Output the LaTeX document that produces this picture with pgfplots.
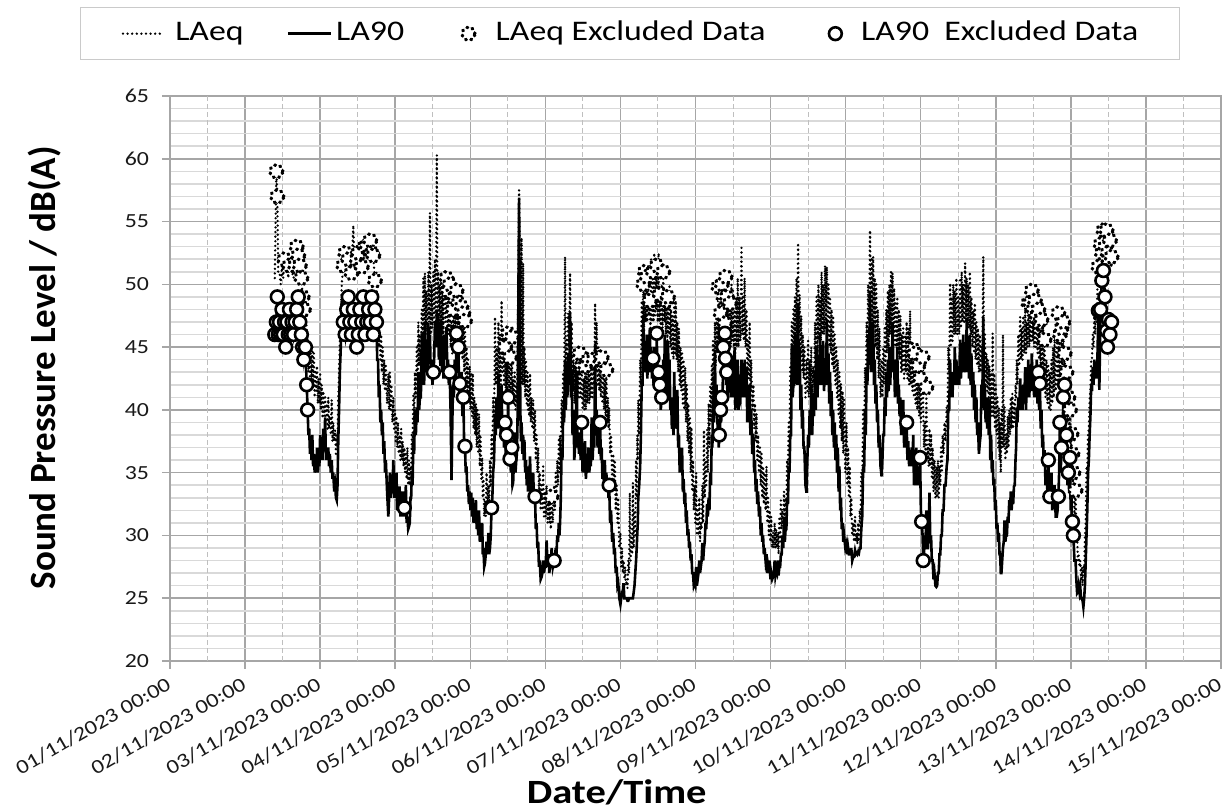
\documentclass[border=0pt]{standalone}
\usepackage{pgfplots}
\usepackage{pgfplotstable}
\pgfplotsset{compat=1.18}
\usepackage{fontspec}
\setmainfont{Carlito}[FakeStretch=1.19]
\newfontfamily\ylabfont{Carlito}
\definecolor{gmaj}{RGB}{166,166,166}
\definecolor{gmin}{RGB}{217,217,217}
\definecolor{gdash}{RGB}{191,191,191}
\newcommand\ticksize{\fontsize{10}{12}\selectfont}
\newcommand\legfont{\fontsize{14.2}{17}\selectfont}
\pgfplotsset{
  imgA/.style={legend image code/.code={\draw[##1] (0pt,0pt) -- (20.5pt,0pt); \path (25.5pt,0pt);}},
  imgB/.style={legend image code/.code={\path (0pt,0pt); \draw[##1] (21.5pt,0pt) -- (43pt,0pt); \path (45pt,0pt);}},
  imgC/.style={legend image code/.code={\path (0pt,0pt); \draw[##1] plot coordinates {(31.75pt,0pt)}; \path (45pt,0pt);}},
  imgD/.style={legend image code/.code={\path (0pt,0pt); \draw[##1] plot coordinates {(34.5pt,0pt)}; \path (47pt,0pt);}},
}

\pgfplotstableread{
h eq l90
33.5 50.5 46
34 59 47
34.3 57 49
34.6 51 46
35 51 47
35.4 50 46
35.8 51.5 48
36.2 50.5 46
36.6 52 47
37 51 45
37.4 52 47
37.8 50.5 46
38.2 51.5 48
38.6 52 46
39 51 47
39.5 50.5 46
40 51.5 47
40.5 53 48
41 52.3 49
41.5 51.5 47
42 50.5 46
42.4 49 45
42.8 48 44
43.3 47.5 45
43.7 46.5 42
44 45.5 40
44.25 43 38
44.5 45 38.5
44.75 42.5 36.5
45 44.5 37.5
45.25 42 36
45.5 45 38
45.75 42 35.5
46 44.5 36.5
46.25 41 35
46.5 43 35.8
46.75 41.5 35
47 43.5 37
47.25 40.5 35
47.5 42.5 36
47.75 40.5 35.5
48 43 38
48.25 40 36
48.5 42 37
48.75 39.5 36
49 41.5 38.5
49.3 39.5 37
49.6 41 39.4
49.85 39 36
50.1 40.5 37
50.35 38.5 36
50.6 41 37
50.85 38.5 35.5
51.1 39.5 36.5
51.4 38 35
51.7 40.8 36
51.95 37.5 34.5
52.2 39 35
52.5 37.5 33.5
52.8 38.4 34
53.05 36.5 33
53.3 38 32.8
53.55 37 34
53.8 41 37.6
54.05 43 40
54.3 45.6 43
54.6 47 45
54.9 50 48.7
55.4 51.5 47
56 52.5 46
56.5 50.5 48
57 52 49
57.5 51 47
58 50.9 46
58.6 54.7 48
59.1 51 47
59.7 52 45
60.2 52.5 46
60.7 51 48
61.3 51.4 47
61.8 52 49
62.3 53 46
62.9 53.1 47
63.5 52 48
64 53.5 47
64.5 52.5 49
65 52.3 46
65.5 50.3 48
66 51 47
66.25 47 44
66.5 48.5 44
66.75 45 41
67 47 42
67.25 44 39
67.5 46 40
67.75 43 38
68 45 39
68.25 42 36.5
68.5 44 37.5
68.75 41.5 35
69 43.5 36
69.4 40.5 33.5
69.8 42.9 31.5
70.05 40 33
70.3 43 35
70.55 40 33
70.8 42 34
71.1 39 33.5
71.4 41 36
71.65 38.5 33
71.9 40 34
72.15 37.5 33
72.4 39.5 35
72.65 37 32
72.9 39 33
73.15 36.5 32
73.4 38 33.9
73.65 36 31.5
73.9 38.5 32.5
74.15 36 31.5
74.4 37.5 33.5
74.65 35.5 31.5
74.9 37 32.2
75.15 35 31.5
75.4 36.5 34
75.65 34.5 31
75.9 37 31.5
76.15 34 30.5
76.4 36 30.7
76.65 34 31
76.9 35.5 33
77.1 35 33
77.3 38 35
77.55 37 34
77.8 41.3 37.5
78.05 39 36.5
78.3 43 40
78.6 41 38
78.9 45 40.2
79.15 42.5 39
79.4 47 43
79.65 43.5 40
79.9 46 41
80.2 44 41
80.5 48 46.1
80.75 45 42
81 50.5 44
81.25 46 42
81.5 50.9 47
81.75 46 43
82 49.5 45
82.3 46.5 43
82.6 51 46.9
82.85 47 44
83.1 55.7 46
83.35 46 43
83.6 50 44
83.9 46.5 42
84.2 51 43
84.45 47 44
84.7 52 47
85 47.5 45
85.3 60.3 48
85.5 48 45
85.7 51 47.7
85.95 47 44
86.2 50 45
86.45 46.5 43.5
86.7 51 47
86.95 46 43
87.2 49.5 44
87.45 46 42.5
87.7 51 46
88.05 47 44
88.4 50.5 46.6
88.65 46.5 43
88.9 49.5 44
89.15 46 42
89.4 50 43
89.7 45 40
90 47 34.4
90.25 44.5 39
90.5 48 42
90.75 45 41
91 49 44
91.3 45.5 42
91.6 49.5 46.1
91.9 46 43
92.2 48.5 45
92.45 45 41
92.7 48 42.1
92.95 44.5 40.5
93.2 48.2 43
93.5 44 39.5
93.8 47.7 41
94.05 43 37
94.3 47.1 37.1
94.55 42 35
94.8 45 35.5
95.05 41.5 33.5
95.3 44 34
95.55 40.5 32.5
95.8 43.5 33.5
96.05 40 32
96.3 43 33.4
96.55 39.5 31.5
96.8 42.9 33
97.05 38.5 31
97.3 41 32
97.55 38 31
97.8 40.5 32.8
98.05 37 30.5
98.3 40 31.5
98.55 36.5 30
98.8 39.7 32
99.05 35.5 29.5
99.3 38 30.5
99.55 34.5 29.5
99.8 36.2 31
100 33 28.5
100.2 34.5 29
100.45 31.5 27.5
100.7 32.8 27.8
100.95 31.5 28.5
101.2 35 29.5
101.5 32.5 28.5
101.8 34 30.2
102.05 32 28.5
102.3 36 29
102.55 34 30
102.8 38 32.2
103.05 36 33
103.3 41 35
103.6 39 36
103.9 47.4 39.7
104.15 42 38
104.4 45 41
104.7 42 38.5
105 47 42.9
105.25 42.5 39
105.5 46 40
105.75 42 38
106 48.7 42
106.25 43 38
106.5 46 39
106.8 42 37
107.1 45 39
107.35 41.5 36.5
107.6 44 38
107.85 41 37
108.1 46.1 41
108.4 41 35.5
108.7 44.2 36.1
109 41 35
109.3 45.8 37
109.5 40.5 34
109.7 42.4 34.2
109.95 40.5 36
110.2 43 38.2
110.45 40 35
110.7 42 36
110.9 40.5 36.5
111.1 44 39
111.6 57.5 56.9
112 48 40
112.2 42 37.5
112.4 53.7 39
112.65 42 36.5
112.9 51.7 38
113.1 42 36
113.3 45 37.6
113.55 41 35
113.8 44 36
114.05 40.5 34
114.3 43 35.5
114.45 40 33.5
114.6 42 35
114.85 39.5 34
115.1 42.9 36.3
115.35 39 33.5
115.6 41 34.5
115.85 38.5 33
116.1 40.8 35
116.4 37.5 32.5
116.7 40 33.1
116.95 36 30.5
117.2 38 31
117.45 35 29
117.7 37 29.5
117.95 33.5 27.5
118.2 35 28
118.5 32 26.5
118.8 34 26.7
119.05 32 27
119.3 35.5 28
119.55 31.5 27
119.8 33.5 27.5
120.1 31.5 27.5
120.4 34 29.6
120.7 31 27.5
121 33 28.5
121.25 31 27
121.5 32.5 27.5
121.75 30.5 27.5
122 33.1 29
122.4 31 27.5
122.8 34 28
123.05 32 28
123.3 35 29
123.55 33 28.5
123.8 36 30
124.05 34 29.5
124.3 37.6 31
124.5 35 30
124.7 38 31
124.95 36 33
125.2 40.8 37
125.45 38.5 36
125.7 43 40
126 41.5 39
126.3 52.2 44
126.55 43 40
126.8 45.6 43
127.05 43 41
127.3 47.7 44.5
127.6 45 42
127.9 50.9 47.7
128.15 44 41
128.4 47 43
128.7 41.5 38
129 44 40
129.25 40.5 36
129.5 43.5 37.1
129.75 41 38
130 45 43.7
130.25 41 37
130.5 44 38
130.75 41 36.5
131 44.5 38.2
131.3 41 36
131.6 43.5 39
131.9 40 35
132.2 42.5 36.5
132.45 40 35
132.7 43.5 37.5
132.95 40 34.5
133.2 42.9 35.5
133.5 40.5 35
133.8 44 37
134.05 40.5 35
134.3 43.5 36
134.55 41 35.5
134.8 44.5 39.4
135.1 41 36
135.4 44 38
135.65 42 37
135.9 48.5 45.3
136.15 43 38.5
136.4 47 40
136.7 42 37
137 45 38
137.25 41.5 36.5
137.5 44 39
137.75 41 36
138 44.2 37
138.25 40.5 34.5
138.5 43.4 35.5
138.75 40 34
139 42.5 36
139.25 39.5 34
139.5 43.2 35
139.75 39 33.5
140 41 34.5
140.2 38.5 33
140.4 40.2 34
140.7 36.5 31
141 38 32
141.35 34.5 29.5
141.7 36.5 30.2
141.95 33.5 28.5
142.2 36 29
142.5 32 27
142.8 34 27.5
143.05 31 26
143.3 33 26.2
143.65 29 25
144 30.2 24.5
144.25 27.5 25
144.5 29 25.5
144.75 27 25.5
145 28 26.2
145.25 26.5 25
145.5 27.5 25
145.75 26 25
146 26.4 25
146.25 25.8 24.8
146.5 28 24.8
146.75 27 25
147 33.4 25
147.25 28 25
147.5 30 25
147.75 28.5 25
148 34.2 25
148.25 29 25.5
148.5 32 26
148.75 30 27
149 36 28
149.2 33 29
149.4 38 30.2
149.55 36 31
149.7 40.8 33
150 38 34
150.3 44 35.5
150.55 42 38
150.8 48.7 42
151.05 45 42
151.3 50 47.4
151.55 46 43
151.8 51 45
152.1 47 43
152.4 50.6 46
152.6 47 42.5
152.8 51.5 44
153.1 47.5 43
153.4 48.7 46.5
153.6 46.5 43
153.8 52 45
154.1 47 42.5
154.4 51 44.1
154.6 47 42
154.8 52.5 45
155.05 47.5 42.5
155.3 51 44
155.45 48 43
155.6 51.5 46.1
155.9 47 42
156.2 52.5 43
156.4 47 41
156.6 49.2 42
156.9 46.5 40
157.2 50 41
157.45 46.5 41
157.7 51 44
157.95 47 42
158.2 49.5 46
158.5 46 41.5
158.8 48.7 43
159 45.5 41
159.2 49 45.5
159.45 46 42
159.7 50 44
159.95 45 40
160.2 48 41
160.45 44.5 38.5
160.7 47.5 39.5
160.95 44 38
161.2 48.5 43
161.45 44.5 39
161.7 48.7 40
161.95 44 38.5
162.2 47 41.6
162.45 43 37
162.7 46.5 38
162.95 42 35
163.2 45 36
163.45 41.5 35
163.7 44.5 37
163.95 40.5 33.5
164.2 44 34.5
164.45 40 32.5
164.7 43.4 33.4
164.95 39 31
165.2 42 32
165.45 37.5 30
165.7 40.5 30.5
165.95 36.5 29
166.2 39.5 29.5
166.45 35 28
166.7 38.6 28.5
166.95 33.5 27
167.2 36 27
167.45 32 26
167.7 34 26.2
167.95 31 26
168.2 35 27.5
168.45 30 26
168.7 32 26.5
168.95 30 27
169.2 33 28
169.45 29.5 27
169.7 31 27.5
169.95 30.5 28
170.2 34 29.4
170.45 31 28
170.7 38.4 29
170.95 33 29.5
171.2 36 31
171.45 34 30.5
171.7 38.4 32.5
171.95 35 31.5
172.2 40.5 33
172.45 37 32
172.7 42 35
172.95 39 34
173.2 43.5 38
173.4 41 37
173.6 45.5 41
173.9 42 39
174.2 47 44.8
174.45 43.5 40
174.7 48 42
175 44.5 39
175.3 49.8 38
175.45 45 37
175.6 48.5 38
175.8 45 38
176 47.7 40
176.2 45 39
176.4 50 41
176.65 45.5 41
176.9 49 45
177.15 46 43
177.4 46.9 46.1
177.5 48 43.5
177.6 50.6 44.1
177.8 46 42
178 49 43
178.25 45.5 41
178.5 49 45
178.75 45 41.5
179 48.5 43
179.25 45 41
179.5 50 44
179.75 45.5 41
180 49.5 43
180.25 45 41
180.5 48 45
180.75 44.5 40
181 49 42
181.25 45 40.5
181.5 50.5 44
181.75 45 40
182 49 41.5
182.35 45.5 41
182.7 52.9 44
182.95 46 41
183.2 49 43
183.45 45.5 41
183.7 50.5 44
184 45 41
184.3 48 43.4
184.55 43 39
184.8 45.5 40.5
185.05 42.5 39
185.3 47 42
185.55 41.5 38
185.8 44 40
186.15 40 36.5
186.5 42 38.1
186.75 38.5 35
187 40.5 36
187.25 37.5 33.5
187.5 39.7 34.5
187.75 36 32.5
188 38 33.5
188.3 35 31.5
188.6 37 32.3
188.85 34 30
189.1 36.5 31
189.35 33 29.5
189.6 35.5 30
189.85 32.5 28.5
190.1 35 29
190.4 32 28
190.7 35.5 28.5
190.95 31 27
191.2 33 27.5
191.45 30 27
191.7 32 28
191.95 29.5 26.5
192.2 31.5 27
192.5 29 26.5
192.8 30.2 26.7
193.05 29 27
193.3 31 28
193.55 29 26.8
193.8 30.5 27.2
194.05 29 27
194.3 30.2 28
194.55 28.5 26.8
194.8 31.5 27.5
195.05 29.5 27.5
195.3 32.8 28.5
195.55 30.5 28.5
195.8 32 30
196.05 31 29
196.3 33.5 31.5
196.55 31.5 29.5
196.8 33 30.5
197.05 32.5 30.5
197.3 36 33
197.55 35 32.5
197.8 39 35.5
198.05 37 35
198.3 43.4 38
198.55 41 38
198.8 47 45.3
199.05 44 41
199.3 48 42
199.55 45 42
199.8 49 46
200.05 45.5 42.5
200.3 50.5 44.5
200.55 46 42
200.8 53.3 48.5
201.05 46 42
201.3 49.2 45
201.55 44.5 40
201.8 47.5 42
202.05 43 38.5
202.3 46 40
202.55 42.5 37
202.8 45 37
203.15 41 34
203.5 44 33.4
203.75 41.5 36
204 45.5 38
204.25 41 37
204.5 44 40
204.75 41.5 38
205 45 42
205.3 41 38
205.6 43.4 40.5
205.9 42 39.5
206.2 47 43
206.45 43 40
206.7 49 45
207 44.5 41
207.3 50 44
207.55 45.5 42
207.8 49 46.1
208.05 45.5 42
208.3 51 44.5
208.55 46 42
208.8 50 45.5
209.1 46 41.5
209.4 51.5 44
209.7 46.5 42
210 51.4 47.2
210.25 46 42
210.5 50 44.5
210.75 45 40.5
211 49 43
211.25 44.5 39.5
211.5 48 41.5
211.75 43.5 38
212 47.5 40
212.25 43 37
212.5 46 39
212.75 42 36
213 45 38
213.25 41 35
213.5 44 37
213.75 39.5 33.5
214 43 35.5
214.25 38.5 32
214.5 42.1 33
214.75 37.5 30.5
215 41.5 31
215.25 36.5 29.5
215.5 40.8 30
215.9 35 29
216.3 39 29.4
216.55 34 28.5
216.8 37 29
217.05 33 28.5
217.3 35.5 28.5
217.55 31.5 28.5
217.8 33 29
218.1 30 28
218.4 31 28.3
218.7 29.5 28.3
219 31.5 28.8
219.25 29.5 28.5
219.5 30.2 28.6
219.75 29.3 28.5
220 31 28.7
220.25 29.5 28.6
220.5 32 29
220.75 31 29
221 35 30.5
221.3 34 31.5
221.6 40 35.5
221.9 38 35
222.2 43.4 40
222.45 41 38
222.7 47 43.4
222.95 45 42
223.2 50 46
223.5 47 44
223.8 54.3 49.5
224.05 47 43
224.3 52 45
224.55 47 43
224.8 52.2 47
225.05 46.5 42
225.3 50.5 44
225.55 45 40.5
225.8 50 42
226.05 44 39
226.3 48 40
226.55 42.5 37
226.8 46.5 38
227.15 41 35.5
227.5 44 34.7
227.75 41 36
228 45 38
228.25 42 38
228.5 46.5 41
228.75 43 39.5
229 48 43
229.25 44.5 41
229.5 49.5 44
229.75 45 41.5
230 50 45
230.25 46 42
230.5 51 44
230.75 46.5 43
231 50.9 46.9
231.25 46 43
231.5 49.7 44
231.75 45 41
232 48.5 43
232.25 45 41.5
232.5 49 45
232.75 44.5 40.5
233 48 42
233.25 44 39.5
233.5 47.5 41
233.75 43 38
234 46 39.5
234.2 43 38
234.4 46.5 40.8
234.7 42.5 37
235 46 38
235.25 43 37
235.5 47 39
235.75 42.5 36
236 46.5 37.5
236.3 42 35.5
236.6 47.9 36.5
236.85 42 35.5
237.1 45 37
237.35 41.5 35.5
237.6 44.8 38
237.85 41 34
238.1 44.5 35
238.35 40.5 34
238.6 43.5 37
238.9 40 34
239.2 43.5 35.5
239.5 39.5 34
239.8 42.5 36.2
240.05 39 32
240.3 42 31.1
240.6 44.2 30
240.8 40 28
241.05 37 28.5
241.3 39 30
241.55 36.5 29.5
241.8 41.8 32
242.05 36 29
242.3 37 29
242.55 35.5 30
242.8 38.5 33.4
243.05 35.5 29.5
243.3 38.1 30
243.55 34.5 28
243.8 37 28
244.1 33.5 26.5
244.4 36 27
244.7 33 26
245 35.5 25.9
245.25 33 26
245.5 36 27
245.75 33 27
246 35.5 28.5
246.25 34 28.5
246.5 37 30
246.75 35 30
247 38 32
247.3 36.5 32
247.6 39 34
247.95 37.5 34
248.3 40.2 35.5
248.55 39 36
248.8 45 40
249.1 43 40
249.4 50.1 44
249.65 45 41
249.9 49 42
250.15 45.5 41
250.4 50 43
250.65 46 42
250.9 49.5 45
251.15 46 42
251.4 50.5 44
251.7 46 42
252 49 43.5
252.3 46 42
252.6 50.5 45.6
252.85 46.5 42.5
253.1 51 44
253.35 47 43
253.6 50 46
253.9 47 43
254.2 51.7 45
254.45 47 43
254.7 50.5 47.2
254.95 46.5 43
255.2 50 45
255.45 46.5 42.5
255.7 51 46
255.95 46 42
256.2 49 44.5
256.5 45 41
256.8 47.9 43
257.05 44.5 40
257.3 48.5 42
257.55 44 39
257.8 47 41
258.05 43.5 38
258.3 46.5 39
258.6 43 36.5
258.9 46 37.4
259.15 43 38
259.4 45 42
259.7 44 41
260 52.2 47.4
260.25 44 40
260.5 46 42
260.75 42 39
261 44.5 40.5
261.25 41.5 38.5
261.5 44 41
261.75 41 38
262 43.5 40.8
262.25 40 36
262.5 43 38
262.75 39.5 35
263 46.1 36
263.25 39.5 34
263.5 42.9 34.5
263.75 38.5 32
264 42 32.8
264.25 38 30.5
264.5 41 31
264.75 37 29.5
265 40.2 30.2
265.2 36 28.5
265.4 39 28.5
265.6 35 27
265.8 40 27
266.05 37 28
266.3 46 29
266.55 37 29.5
266.8 40.2 31.2
267.05 36 29.5
267.3 38.1 30
267.55 36.5 30
267.8 39.5 31.5
268.05 37 31
268.3 40 32.8
268.55 38 32
268.8 41 33.5
269.05 38.5 32
269.3 41.3 33
269.55 38.5 32.5
269.8 40.5 33.9
270.05 39 34
270.3 42 36
270.5 41 37
270.7 44 40.2
270.95 42 39
271.2 46 41
271.5 43.5 40
271.8 47.4 42.5
272.05 44 40
272.3 46.5 41
272.55 44 40
272.8 47.5 42
273.1 44.5 40.5
273.4 48 43.4
273.65 44.5 40
273.9 47 42
274.15 45 41
274.4 48.5 44
274.7 45 41
275 48.5 43
275.25 45.5 41.5
275.5 49.5 44.5
275.75 45.5 41.5
276 48 43.5
276.25 45 41
276.5 48.7 42
276.8 45 41
277.1 47.5 44
277.35 44.5 40.5
277.6 48 43
277.85 44 40
278.1 47 42.1
278.35 43.5 38.5
278.6 47.2 40
278.85 43 37
279.1 46.5 38
279.35 42 35.5
279.6 45.6 36.8
279.9 41 34
280.2 44 35
280.5 40.5 33.5
280.8 43.5 36
281.05 40 32.5
281.3 43 33.1
281.55 40 33
281.8 44 35
282.05 40.5 32
282.3 45 32.5
282.55 41 32.5
282.8 46 34
283.15 41.5 31.5
283.5 45.5 31.5
283.75 42 32
284 47.7 33.1
284.25 42 35
284.5 46 39
284.75 42 35
285 46.5 37
285.3 43 37.5
285.6 47 41
285.8 43 39
286 44.5 42
286.3 41 37
286.6 43 38
286.9 39 34
287.2 41 35
287.45 38 33.5
287.7 40 36.2
287.95 36 32
288.2 38.1 33
288.35 35 30.5
288.5 36.5 31.1
288.65 34 29.5
288.8 35 30
289.15 31.5 28
289.5 33.6 28
289.75 29.5 26.5
290 30 25.4
290.25 28 25.5
290.5 28.4 26
290.75 27.5 25.5
291 28 25.9
291.25 26.5 25
291.5 27.5 25
291.75 26 24.8
292 27.5 24.3
292.25 27 25
292.5 30 26
292.75 31 28
293 35.5 30
293.25 35 32
293.5 38 35
293.75 38.5 36
294 40.8 38
294.25 41.5 39.5
294.5 44 42
294.75 44 41.5
295 46 43.4
295.25 45 42
295.5 47.5 44
295.75 46 42.5
296 48 43
296.25 47 42.5
296.5 50 44.2
296.8 51.4 47.9
297.1 51 41.6
297.5 53.2 48
297.9 52.5 50.3
298.4 54.3 51.1
298.9 53 49
299.4 54.3 46.3
299.7 52.5 45
300 52 47.2
300.5 53.5 46
301 52.2 47
}\datatab

\begin{document}
\begin{tikzpicture}
\begin{axis}[
  width=525.5pt, height=282.5pt, scale only axis,
  xmin=0, xmax=336, ymin=20, ymax=65,
  xtick={0,24,...,336},
  xticklabels={01/11/2023 00:00,02/11/2023 00:00,03/11/2023 00:00,04/11/2023 00:00,05/11/2023 00:00,06/11/2023 00:00,07/11/2023 00:00,08/11/2023 00:00,09/11/2023 00:00,10/11/2023 00:00,11/11/2023 00:00,12/11/2023 00:00,13/11/2023 00:00,14/11/2023 00:00,15/11/2023 00:00},
  ytick={20,25,...,65},
  minor y tick num=4,
  extra x ticks={12,36,...,324},
  extra x tick labels={},
  extra x tick style={grid=major, major grid style={gdash, line width=0.5pt, dash pattern=on 2.5pt off 1.5pt}, major tick length=0pt},
  grid=both,
  major grid style={gmaj, line width=0.75pt},
  minor grid style={gmin, line width=0.75pt},
  axis line style={gmaj, line width=0.75pt},
  tick style={gmaj, line width=0.75pt},
  tick align=outside, tick pos=left,
  major tick length=4pt, minor tick length=0pt,
  /pgf/number format/assume math mode=true,
  yticklabel style={font=\ticksize, text=black!90, xshift=-3pt},
  xticklabel style={font=\ticksize, text=black!90, xshift=2.5pt, yshift=-5pt, rotate=30, anchor=east},
  xlabel={Date/Time},
  xlabel style={at={(axis description cs:0.425,-0.2319)}, anchor=center, font=\bfseries\fontsize{17}{20}\selectfont},
  ylabel={Sound Pressure Level / dB(A)},
  ylabel style={at={(axis description cs:-0.1189,0.519)}, anchor=center, font=\ylabfont\bfseries\fontsize{18.5}{22}\selectfont},
  legend columns=4,
  legend cell align=left,
  legend style={at={(0.4377,1.1103)}, anchor=center, draw=gmin!70!gmaj, line width=0.75pt,
    inner xsep=20.5pt, inner ysep=6pt, font=\legfont,
    /tikz/every even column/.append style={column sep=0pt},
    nodes={inner xsep=0pt, inner ysep=0pt, text height=10.5pt, text depth=3.5pt}},
]
\coordinate (SW) at (rel axis cs:0,0);
\coordinate (NE) at (rel axis cs:1,1);
\addplot[black, line width=1.3pt, dash pattern=on 0pt off 2.3pt, line cap=round, imgA]
  table[x=h, y=eq] \datatab;
\addlegendentry{LAeq}
\addplot[black, line width=1.3pt, imgB]
  table[x=h, y=l90] \datatab;
\addlegendentry{LA90}
\addplot[only marks, mark=*, mark size=3.2pt,
  mark options={draw=black, fill=white, line width=1.7pt, dash pattern=on 0.4pt off 2.3pt, line cap=round}, imgC]
  coordinates {
  (34,59)(34.3,57)(36.6,52)(38.2,51.5)(40,51.5)(40.5,53)(41,52.3)(41.5,51.5)(42,50.5)(42.4,49)(42.8,48)
  (55.4,51.5)(56,52.5)(57,52)(58,50.9)(59.7,52)(60.2,52.5)(61.3,51.4)(62.3,53)(62.9,53.1)(64,53.5)(64.5,52.5)(65,52.3)(65.5,50.3)
  (88.4,50.5)(88.9,49.5)(89.4,50)(90.5,48)(91,49)(91.6,49.5)(92.2,48.5)(93.2,48.2)(93.8,47.7)(94.3,47.1)
  (107.1,45)(108.1,46.1)(108.7,44.2)(109.3,45.8)(122,33.1)
  (131,44.5)(131.6,43.5)(132.7,43.5)(133.8,44)(135.4,44)(137.5,44)(138,44.2)(139.5,43.2)
  (151.3,50)(151.8,51)(152.4,50.6)(153.4,48.7)(154.4,51)(155.6,51.5)(156.6,49.2)(157.7,51)(158.8,48.7)(159.2,49)
  (175.3,49.8)(176,47.7)(176.4,50)(176.9,49)(177.4,46.9)(177.6,50.6)(178,49)(179,48.5)
  (237.6,44.8)(238.1,44.5)(238.6,43.5)(239.2,43.5)(239.8,42.5)(240.6,44.2)(241.8,41.8)
  (274.4,48.5)(275,48.5)(275.5,49.5)(276,48)(276.5,48.7)(277.1,47.5)(277.6,48)(278.1,47)(278.6,47.2)(279.6,45.6)
  (284,47.7)(284.5,46)(285,46.5)(285.6,47)(286,44.5)(286.6,43)(287.2,41)(287.7,40)(288.2,38.1)(288.5,36.5)(288.8,35)(289.5,33.6)
  (296.8,51.4)(297.5,53.2)(297.9,52.5)(298.4,54.3)(298.9,53)(299.4,54.3)(299.7,52.5)(300,52)(300.5,53.5)(301,52.2)
  };
\addlegendentry{LAeq Excluded Data}
\addplot[only marks, mark=*, mark size=3.2pt,
  mark options={draw=black, fill=white, line width=1.3pt, solid}, imgD]
  coordinates {
  (33.5,46)(34,47)(34.3,49)(34.6,46)(35,47)(35.4,46)(35.8,48)(36.2,46)(36.6,47)(37,45)(37.4,47)(37.8,46)(38.2,48)(38.6,46)(39,47)(39.5,46)(40,47)(40.5,48)(41,49)(41.5,47)(42,46)(42.4,45)(42.8,44)(43.3,45)(43.7,42)(44,40)
  (55.4,47)(56,46)(56.5,48)(57,49)(57.5,47)(58,46)(58.6,48)(59.1,47)(59.7,45)(60.2,46)(60.7,48)(61.3,47)(61.8,49)(62.3,46)(62.9,47)(63.5,48)(64,47)(64.5,49)(65,46)(65.5,48)(66,47)
  (74.9,32.2)(84.2,43)(89.4,43)(91.6,46.1)(92.2,45)(92.7,42.1)(93.8,41)(94.3,37.1)(102.8,32.2)
  (107.1,39)(107.6,38)(108.1,41)(108.7,36.1)(109.3,37)(116.7,33.1)(122.8,28)
  (131.6,39)(137.5,39)(140.4,34)
  (154.4,44.1)(155.6,46.1)(156.2,43)(156.6,42)(157.2,41)
  (175.6,38)(176,40)(176.4,41)(176.9,45)(177.4,46.1)(177.6,44.1)(178,43)
  (235.5,39)(239.8,36.2)(240.3,31.1)(240.8,28)
  (277.6,43)(278.1,42.1)(280.8,36)(281.3,33.1)(284,33.1)(284.5,39)(285,37)(285.6,41)(286,42)(286.6,38)(287.2,35)(287.7,36.2)(288.5,31.1)(288.8,30)
  (296.8,47.9)(297.5,48)(297.9,50.3)(298.4,51.1)(298.9,49)(299.4,46.3)(299.7,45)(300,47.2)(300.5,46)(301,47)
  };
\addlegendentry{LA90\ \ Excluded Data}
\end{axis}
\pgfresetboundingbox
\path ([shift={(-85pt,-75pt)}]SW) rectangle ([shift={(5.5pt,48pt)}]NE);
\end{tikzpicture}
\end{document}
